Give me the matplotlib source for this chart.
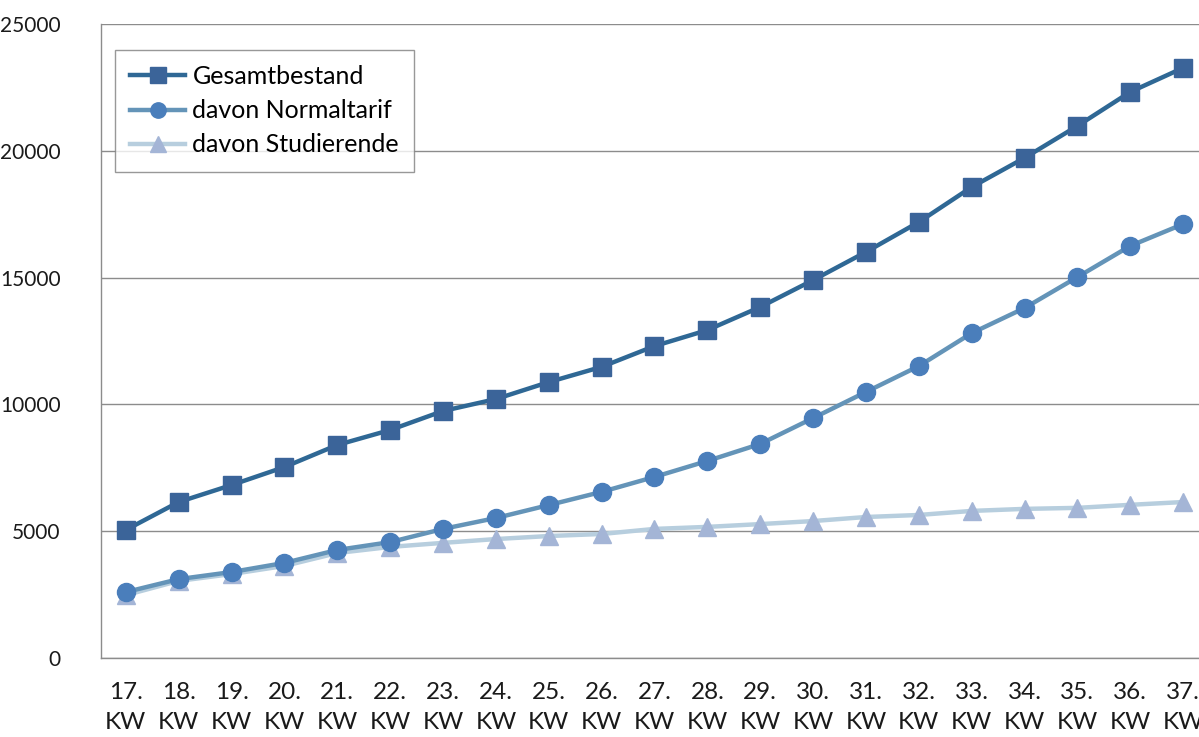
import matplotlib
matplotlib.use("Agg")
import matplotlib.pyplot as plt
from matplotlib.ticker import FixedLocator

plt.rcParams['font.family'] = ['Lato', 'DejaVu Sans']

weeks = [f"{w}.\nKW" for w in range(17, 38)]
gesamt = [5050, 6150, 6820, 7530, 8400, 8990, 9740, 10210, 10880, 11480, 12300,
          12930, 13840, 14900, 16010, 17190, 18570, 19720, 20980, 22320, 23270]
normal = [2600, 3110, 3390, 3750, 4260, 4570, 5090, 5520, 6030, 6550, 7140,
          7770, 8440, 9460, 10490, 11510, 12810, 13800, 15020, 16250, 17110]
studis = [2480, 3040, 3310, 3630, 4140, 4380, 4540, 4690, 4810, 4890, 5090,
          5170, 5280, 5400, 5560, 5640, 5800, 5880, 5920, 6040, 6150]
yticks = [0, 5000, 10000, 15000, 20000, 25000]

W, H = 1199, 737
fig = plt.figure(figsize=(W / 100, H / 100), dpi=100)
ax = fig.add_axes([101 / W, 79 / H, (W - 101) / W, 634 / H])

x = list(range(len(weeks)))
ax.plot(x, gesamt, color='#2F6895', lw=3.2, marker='s', ms=13,
        mfc='#3B6499', mec='#3B6499', label='Gesamtbestand', zorder=5)
ax.plot(x, normal, color='#6494B8', lw=3.2, marker='o', ms=13,
        mfc='#4A7EBB', mec='#4A7EBB', label='davon Normaltarif', zorder=4)
ax.plot(x, studis, color='#B7CEDE', lw=3.2, marker='^', ms=13,
        mfc='#A4B5D6', mec='#A4B5D6', label='davon Studierende', zorder=3)

ax.set_ylim(0, 25000)
ax.set_xlim(-0.47, 20.3)
ax.yaxis.set_major_locator(FixedLocator(yticks))
ax.set_yticklabels([str(v) for v in yticks])
ax.set_xticks(x)
ax.set_xticklabels(weeks, linespacing=1.55)
ax.grid(axis='y', color='#8C8C8C', lw=1.0)
ax.set_axisbelow(True)
for s in ['top', 'right']:
    ax.spines[s].set_visible(False)
for s in ['left', 'bottom']:
    ax.spines[s].set_color('#8C8C8C')
    ax.spines[s].set_linewidth(1.0)
ax.tick_params(axis='both', length=0, colors='#1a1a1a')
ax.tick_params(axis='x', labelsize=17.5, pad=17)
ax.tick_params(axis='y', labelsize=15, pad=29)

leg = ax.legend(loc='upper left', bbox_to_anchor=(14 / (W - 101), 1 - 26 / 634),
                borderaxespad=0, fontsize=18, frameon=True, fancybox=False,
                edgecolor='#7F7F7F', handlelength=2.2, handletextpad=0.3,
                labelspacing=0.45, borderpad=0.6, markerscale=0.85)
leg.get_frame().set_linewidth(1.0)

fig.savefig('out.png', dpi=100)
